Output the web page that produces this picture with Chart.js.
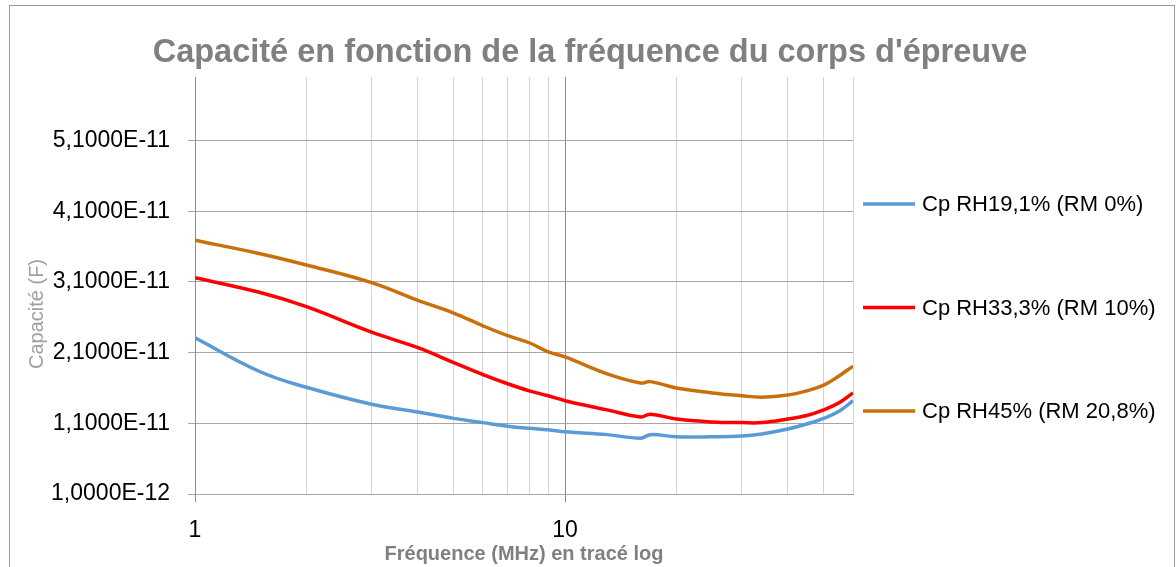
<!DOCTYPE html>
<html>
<head>
<meta charset="utf-8">
<script src="https://cdn.jsdelivr.net/npm/chart.js@4/dist/chart.umd.min.js"></script>
<style>
  body { margin: 0; background: #fff; }
  #wrap { width: 1176px; height: 567px; }
</style>
</head>
<body>
<div id="wrap"><canvas id="myChart" width="1176" height="567"></canvas></div>
<script>
// Données (fréquence en MHz, capacité en F)
const frequences = [1, 1.5, 2, 3, 4, 5, 6, 7, 8, 9, 10, 13, 16, 17, 20, 25, 30, 34, 40, 45, 50, 55, 60];
const cpRH19 = [2.31e-11, 1.83e-11, 1.61e-11, 1.37e-11, 1.26e-11, 1.17e-11, 1.11e-11, 1.06e-11, 1.03e-11, 1.01e-11, 0.98e-11, 0.94e-11, 0.89e-11, 0.94e-11, 0.91e-11, 0.91e-11, 0.92e-11, 0.95e-11, 1.02e-11, 1.09e-11, 1.17e-11, 1.27e-11, 1.42e-11];
const cpRH33 = [3.16e-11, 2.95e-11, 2.75e-11, 2.39e-11, 2.17e-11, 1.96e-11, 1.79e-11, 1.66e-11, 1.56e-11, 1.49e-11, 1.42e-11, 1.29e-11, 1.19e-11, 1.23e-11, 1.16e-11, 1.12e-11, 1.11e-11, 1.11e-11, 1.16e-11, 1.21e-11, 1.29e-11, 1.39e-11, 1.53e-11];
const cpRH45 = [3.69e-11, 3.50e-11, 3.34e-11, 3.09e-11, 2.84e-11, 2.66e-11, 2.48e-11, 2.34e-11, 2.24e-11, 2.11e-11, 2.04e-11, 1.80e-11, 1.67e-11, 1.69e-11, 1.60e-11, 1.53e-11, 1.49e-11, 1.47e-11, 1.50e-11, 1.56e-11, 1.64e-11, 1.77e-11, 1.91e-11];

const labelsSeries = ['Cp RH19,1% (RM 0%)', 'Cp RH33,3% (RM 10%)', 'Cp RH45% (RM 20,8%)'];
const ticksY = [1e-12, 1.1e-11, 2.1e-11, 3.1e-11, 4.1e-11, 5.1e-11];
const ticksX = [1, 2, 3, 4, 5, 6, 7, 8, 9, 10, 20, 30, 40, 50, 60];
const ticksXMajeurs = [1, 10];

const titre = "Capacité en fonction de la fréquence du corps d'épreuve";
const titreY = 'Capacité (F)';
const titreX = 'Fréquence (MHz) en tracé log';

const police = '"Liberation Sans", Arial, sans-serif';

function points(vals) {
    return frequences.map((f, i) => ({ x: f, y: vals[i] }));
}

// Cadre, titre, titre vertical et légende dessinés à la main
const decor = {
    id: 'decor',
    beforeDraw(chart) {
        const c = chart.ctx;
        c.save();
        c.fillStyle = '#fff';
        c.fillRect(0, 0, chart.width, chart.height);
        c.strokeStyle = '#9a9a9a';
        c.lineWidth = 1;
        c.strokeRect(9.5, 5.5, 1165, 600);
        c.restore();
    },
    afterDraw(chart) {
        const c = chart.ctx;
        c.save();
        // titre
        c.font = 'bold 30px ' + police;
        const w = c.measureText(titre).width;
        const taille = 30 * 875 / w;
        c.font = 'bold ' + taille.toFixed(1) + 'px ' + police;
        c.fillStyle = '#808080';
        c.textAlign = 'center';
        c.textBaseline = 'alphabetic';
        c.fillText(titre, 590, 62);

        // titre axe Y
        c.save();
        c.translate(37, 314);
        c.rotate(-Math.PI / 2);
        c.font = '20px ' + police;
        c.fillStyle = '#a0a0a0';
        c.textBaseline = 'middle';
        c.fillText(titreY, 0, 0);
        c.restore();

        // légende
        chart.data.datasets.forEach((ds, i) => {
            const y = 204 + i * 103.5;
            c.strokeStyle = ds.borderColor;
            c.lineWidth = 3.5;
            c.beginPath();
            c.moveTo(863, y);
            c.lineTo(915, y);
            c.stroke();
            c.font = '22px ' + police;
            c.fillStyle = '#000';
            c.textAlign = 'left';
            c.textBaseline = 'middle';
            c.fillText(ds.label, 922, y + 1);
        });
        c.restore();
    }
};

const ctx = document.getElementById('myChart');
const myChart = new Chart(ctx, {
    type: 'line',
    data: {
        datasets: [
            { label: labelsSeries[0], data: points(cpRH19), borderColor: '#5b9bd5' },
            { label: labelsSeries[1], data: points(cpRH33), borderColor: '#ff0000' },
            { label: labelsSeries[2], data: points(cpRH45), borderColor: '#c9700c' }
        ]
    },
    options: {
        responsive: false,
        animation: false,
        devicePixelRatio: 1,
        elements: {
            point: { radius: 0 },
            line: { borderWidth: 3.5, tension: 0.4, fill: false }
        },
        layout: { padding: { top: 77, right: 323, bottom: 0, left: 0 } },
        plugins: {
            legend: { display: false },
            title: { display: false },
            tooltip: { enabled: false }
        },
        scales: {
            x: {
                type: 'logarithmic',
                min: 1,
                max: 60,
                afterBuildTicks: (s) => { s.ticks = ticksX.map(v => ({ value: v })); },
                afterFit: (s) => { s.height = 73; },
                grid: {
                    color: (c) => ticksXMajeurs.includes(c.tick && c.tick.value) ? '#8c8c8c' : '#d4d4d4',
                    tickColor: (c) => ticksXMajeurs.includes(c.tick && c.tick.value) ? '#8c8c8c' : 'rgba(0,0,0,0)',
                    tickLength: 8,
                    lineWidth: 1
                },
                border: { color: '#a6a6a6' },
                ticks: {
                    autoSkip: false,
                    maxRotation: 0,
                    padding: 15,
                    color: '#000',
                    font: { family: police, size: 23 },
                    callback: (v) => ticksXMajeurs.includes(v) ? String(v) : ''
                },
                title: {
                    display: true,
                    text: titreX,
                    color: '#808080',
                    font: { family: police, size: 20, weight: 'bold' },
                    padding: { top: 0, bottom: 1 }
                }
            },
            y: {
                type: 'linear',
                min: 1e-12,
                max: 6e-11,
                afterBuildTicks: (s) => { s.ticks = ticksY.map(v => ({ value: v })); },
                afterFit: (s) => { s.width = 195; },
                grid: { color: '#a6a6a6', tickLength: 7, lineWidth: 1 },
                border: { color: '#8c8c8c' },
                ticks: {
                    padding: 18,
                    color: '#000',
                    font: { family: police, size: 23 },
                    callback: (v) => v.toExponential(4).replace('.', ',').replace('e', 'E')
                }
            }
        }
    },
    plugins: [decor]
});
</script>
</body>
</html>
